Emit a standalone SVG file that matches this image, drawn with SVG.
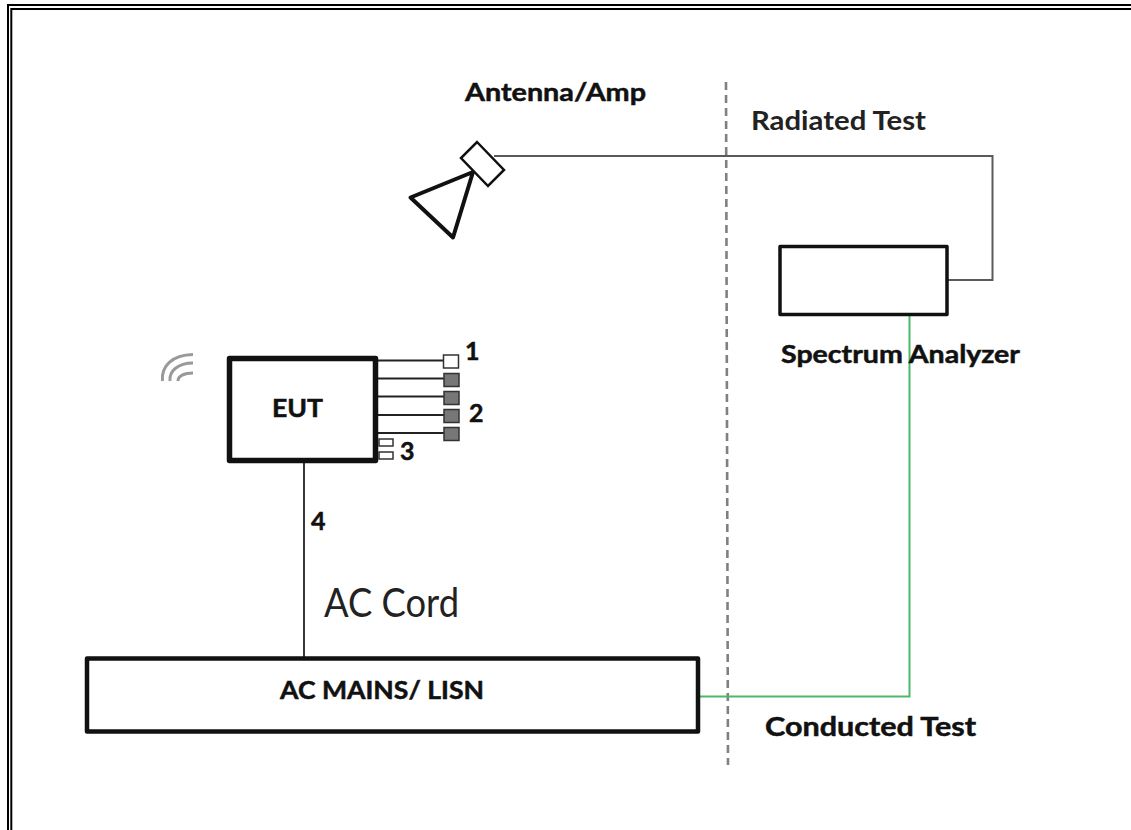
<svg xmlns="http://www.w3.org/2000/svg" width="1131" height="830" viewBox="0 0 1131 830">
<style>
.t{font-family:"Lato","Open Sans",sans-serif;font-weight:700;fill:#111;stroke:#111;stroke-width:.5}
.box{fill:#fff;stroke:#111;stroke-linejoin:round}
.wire{fill:none;stroke:#222;stroke-width:1.800}
.port{fill:#777;stroke:#333;stroke-width:1.500}
.small{fill:#fff;stroke:#333;stroke-width:1.500}
</style>
<rect width="1131" height="830" fill="#fff"/>
<g id="frame" fill="none" stroke="#000" stroke-width="2">
<path d="M8 830V5H1131"/>
<path d="M11.300 830V9H1131"/>
</g>
<g id="connectors">
<path d="M726 82L728 765" fill="none" stroke="#808080" stroke-width="2.600" stroke-dasharray="8 5"/>
<path d="M494 156H992.500V280H947" fill="none" stroke="#5a5a5a" stroke-width="2"/>
<path d="M909.500 315V696.500H698" fill="none" stroke="#4fb96a" stroke-width="2"/>
<path class="wire" d="M304 462V658"/>
<path class="wire" d="M376 360.500H444M376 378.500H444M376 396.500H444M376 415H444M376 433H444"/>
</g>
<g id="antenna">
<path d="M473 172L410.500 197.500L453 237.500Z" fill="#fff" stroke="#111" stroke-width="4" stroke-linejoin="round"/>
<path d="M477 142L504 170L488 186L461 158Z" fill="#fff" stroke="#111" stroke-width="2.500"/>
<text class="t" x="465" y="101" font-size="25" textLength="181" lengthAdjust="spacingAndGlyphs">Antenna/Amp</text>
</g>
<g id="analyzer">
<rect class="box" x="780" y="246.500" width="167" height="68" stroke-width="3.500"/>
<text class="t" x="781" y="363" font-size="24" textLength="239" lengthAdjust="spacingAndGlyphs">Spectrum Analyzer</text>
</g>
<g id="eut">
<rect class="box" x="229.500" y="358.500" width="146" height="102" stroke-width="5.500"/>
<text class="t" x="272" y="417" font-size="25" textLength="51" lengthAdjust="spacingAndGlyphs">EUT</text>
</g>
<g id="wireless" fill="none" stroke="#999" stroke-width="3">
<path d="M162.500 381C161 366 172 355 193 354.500"/>
<path d="M170 381C169 371 178 363 193 363"/>
<path d="M178 381C178 376 184 373 193 373"/>
</g>
<g id="port1"><rect class="small" x="443.500" y="355" width="15" height="13"/><text class="t" x="465" y="360" font-size="25">1</text></g>
<g id="port2">
<rect class="port" x="444" y="373.500" width="15" height="13"/>
<rect class="port" x="444" y="391.500" width="15" height="13"/>
<rect class="port" x="444" y="409.500" width="15" height="13"/>
<rect class="port" x="444" y="427.500" width="15" height="13"/>
<text class="t" x="469" y="422" font-size="25">2</text>
</g>
<g id="port3">
<rect class="small" x="379" y="439" width="14" height="7"/>
<rect class="small" x="379" y="452" width="14" height="7"/>
<text class="t" x="400" y="460" font-size="25">3</text>
</g>
<text class="t" x="311" y="530" font-size="25">4</text>
<text x="324" y="617" font-size="40" fill="#222" font-family="Lato,'Open Sans',sans-serif" textLength="135" lengthAdjust="spacingAndGlyphs">AC Cord</text>
<g id="mains">
<rect class="box" x="87" y="658.500" width="611" height="73" stroke-width="4.500"/>
<text class="t" x="280" y="699" font-size="24" textLength="204" lengthAdjust="spacingAndGlyphs">AC MAINS/ LISN</text>
</g>
<text class="t" x="751" y="130" font-size="27" textLength="175" lengthAdjust="spacingAndGlyphs" style="fill:#222;stroke:none">Radiated Test</text>
<text class="t" x="765" y="736" font-size="27" textLength="211" lengthAdjust="spacingAndGlyphs">Conducted Test</text>
</svg>
